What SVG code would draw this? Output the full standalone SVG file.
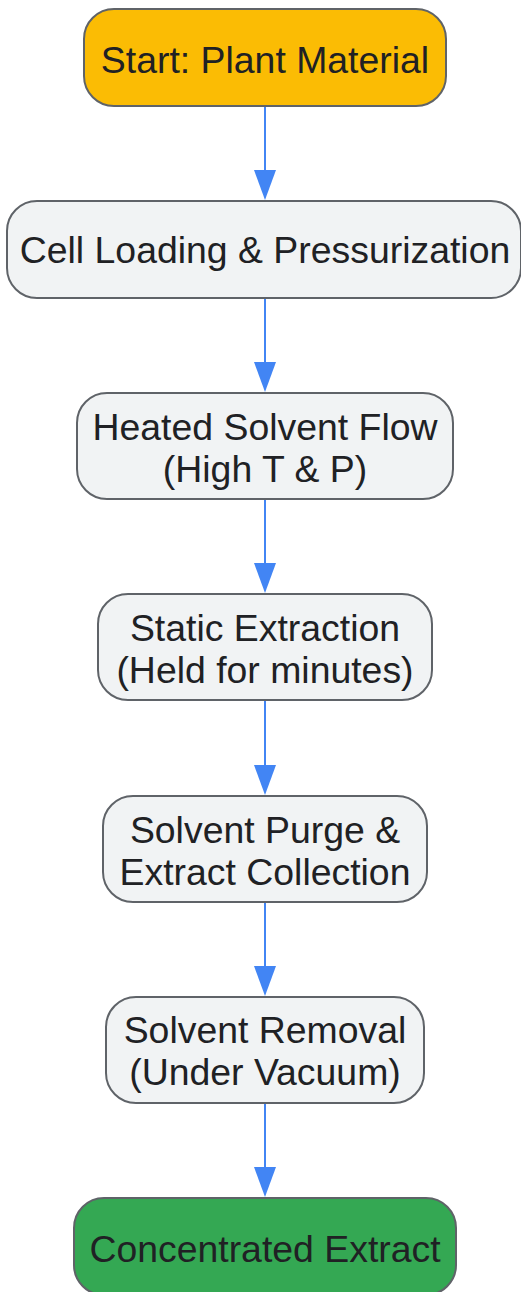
<svg xmlns="http://www.w3.org/2000/svg" width="521" height="1292" viewBox="0 0 521 1292">
<defs>
<style>
.box{fill:#f1f3f4;stroke:#5f6368;stroke-width:2}
.start{fill:#fbbc04}
.end{fill:#34a853}
.lbl{font-family:"Liberation Sans",Arial,sans-serif;font-size:37.4px;fill:#202124;text-anchor:middle}
.edge{stroke:#4285f4;stroke-width:2;fill:none}
.head{fill:#4285f4}
</style>
</defs>
<rect width="521" height="1292" fill="#ffffff"/>
<g id="connectors">
<line class="edge" x1="265" y1="106" x2="265" y2="175"/>
<polygon class="head" points="254,170 276,170 265,200"/>
<line class="edge" x1="265" y1="298" x2="265" y2="367"/>
<polygon class="head" points="254,362 276,362 265,392"/>
<line class="edge" x1="265" y1="499" x2="265" y2="568"/>
<polygon class="head" points="254,563 276,563 265,593"/>
<line class="edge" x1="265" y1="700" x2="265" y2="770"/>
<polygon class="head" points="254,765 276,765 265,795"/>
<line class="edge" x1="265" y1="902" x2="265" y2="971"/>
<polygon class="head" points="254,966 276,966 265,996"/>
<line class="edge" x1="265" y1="1103" x2="265" y2="1172"/>
<polygon class="head" points="254,1167 276,1167 265,1197"/>
</g>
<g id="n1">
<rect class="box start" x="84" y="9" width="362" height="97" rx="30"/>
<text class="lbl" x="265" y="73">Start: Plant Material</text>
</g>
<g id="n2">
<rect class="box" x="7" y="201" width="514" height="97" rx="30"/>
<text class="lbl" x="265" y="263">Cell Loading &amp; Pressurization</text>
</g>
<g id="n3">
<rect class="box" x="77" y="393" width="376" height="106" rx="30"/>
<text class="lbl" x="265" y="440">Heated Solvent Flow</text>
<text class="lbl" x="265" y="482">(High T &amp; P)</text>
</g>
<g id="n4">
<rect class="box" x="98" y="594" width="334" height="106" rx="30"/>
<text class="lbl" x="265" y="641">Static Extraction</text>
<text class="lbl" x="265" y="683">(Held for minutes)</text>
</g>
<g id="n5">
<rect class="box" x="103" y="796" width="324" height="106" rx="30"/>
<text class="lbl" x="265" y="843">Solvent Purge &amp;</text>
<text class="lbl" x="265" y="885">Extract Collection</text>
</g>
<g id="n6">
<rect class="box" x="106" y="997" width="318" height="106" rx="30"/>
<text class="lbl" x="265" y="1043">Solvent Removal</text>
<text class="lbl" x="265" y="1085">(Under Vacuum)</text>
</g>
<g id="n7">
<rect class="box end" x="74" y="1198" width="382" height="97" rx="30"/>
<text class="lbl" x="265" y="1262">Concentrated Extract</text>
</g>
</svg>
